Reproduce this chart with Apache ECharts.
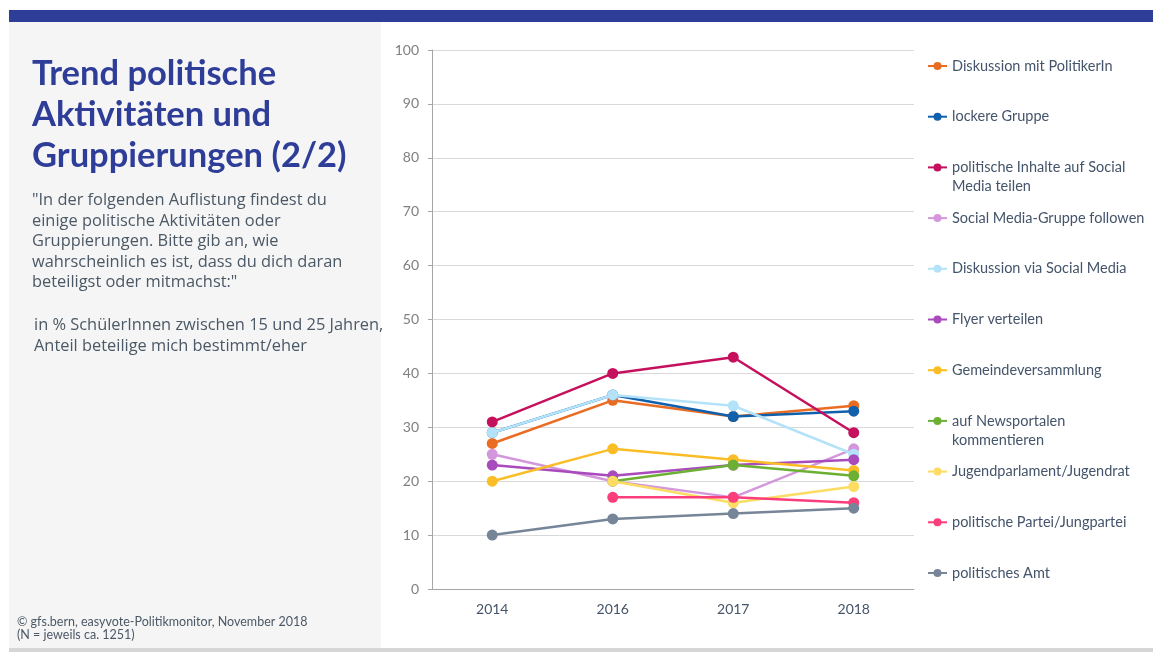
<!DOCTYPE html>
<html>
<head>
<meta charset="utf-8">
<script src="https://cdn.jsdelivr.net/npm/echarts@6/dist/echarts.min.js"></script>
<style>
  html, body { margin: 0; padding: 0; background: #ffffff; }
  #chart { width: 1153px; height: 652px; }
</style>
</head>
<body>
<div id="chart"></div>
<script>
// Survey years on the x axis
const years = ['2014', '2016', '2017', '2018'];

// Share of pupils/students (15–25) likely to take part, in %
const seriesNames = [
  'Diskussion mit PolitikerIn',
  'lockere Gruppe',
  'politische Inhalte auf Social Media teilen',
  'Social Media-Gruppe followen',
  'Diskussion via Social Media',
  'Flyer verteilen',
  'Gemeindeversammlung',
  'auf Newsportalen kommentieren',
  'Jugendparlament/Jugendrat',
  'politische Partei/Jungpartei',
  'politisches Amt'
];
const diskussionPolitiker   = [27, 35, 32, 34];
const lockereGruppe         = [29, 36, 32, 33];
const inhalteSocialMedia    = [31, 40, 43, 29];
const socialMediaGruppe     = [25, 20, 17, 26];
const diskussionSocialMedia = [29, 36, 34, 25];
const flyerVerteilen        = [23, 21, 23, 24];
const gemeindeversammlung   = [20, 26, 24, 22];
const newsportale           = [null, 20, 23, 21];
const jugendparlament       = [null, 20, 16, 19];
const partei                = [null, 17, 17, 16];
const politischesAmt        = [10, 13, 14, 15];

const seriesValues = [
  diskussionPolitiker, lockereGruppe, inhalteSocialMedia, socialMediaGruppe,
  diskussionSocialMedia, flyerVerteilen, gemeindeversammlung, newsportale,
  jugendparlament, partei, politischesAmt
];

const seriesColors = [
  '#ea6c23', '#1160ac', '#c5115d', '#d597dc', '#b4e3f9', '#a94bbd',
  '#fbbd26', '#6cb033', '#fcdc62', '#fa3e7c', '#768598'
];

// Legend labels that wrap onto a second line; the leading blank line keeps
// the first text line level with the legend marker
const legendLabels = {
  'politische Inhalte auf Social Media teilen': ' \npolitische Inhalte auf Social\nMedia teilen',
  'auf Newsportalen kommentieren': ' \nauf Newsportalen\nkommentieren'
};

const yTicks = { min: 0, max: 100, interval: 10 };

const TEXT_FONT = 'Lato, "Open Sans", sans-serif';
const BODY_FONT = '"Open Sans", Lato, sans-serif';
const LABEL_COLOR = '#44546a';

const chart = echarts.init(document.getElementById('chart'), null, { renderer: 'canvas' });

const series = seriesNames.map((name, i) => ({
  name: name,
  type: 'line',
  data: seriesValues[i],
  symbol: 'circle',
  symbolSize: 11,
  connectNulls: false,
  itemStyle: { color: seriesColors[i] },
  lineStyle: { color: seriesColors[i], width: 2.5 },
  emphasis: { disabled: true },
  z: 2 + i
}));

// One legend block per entry, evenly stacked down the right side
const legendTop = 66;
const legendStep = 50.7;
const legendLineHeight = 19;
const legends = seriesNames.map((name, i) => {
  const wrapped = !!legendLabels[name];
  const centerY = legendTop + i * legendStep;
  return {
    data: [name],
    orient: 'vertical',
    left: 927,
    top: wrapped ? centerY - legendLineHeight * 1.5 : centerY - legendLineHeight / 2,
    padding: 0,
    itemWidth: 19,
    itemHeight: 10,
    selectedMode: false,
    formatter: (n) => legendLabels[n] || n,
    textStyle: {
      fontFamily: TEXT_FONT,
      fontSize: 14.5,
      color: LABEL_COLOR,
      lineHeight: legendLineHeight
    }
  };
});

const option = {
  animation: false,
  backgroundColor: '#ffffff',
  grid: { left: 432, right: 239, top: 50, bottom: 63, containLabel: false },
  xAxis: {
    type: 'category',
    data: years,
    boundaryGap: true,
    axisLine: { show: true, lineStyle: { color: '#a6a6a6', width: 1 } },
    axisTick: { show: false },
    axisLabel: { color: LABEL_COLOR, fontFamily: TEXT_FONT, fontSize: 14, margin: 13 },
    splitLine: { show: false }
  },
  yAxis: {
    type: 'value',
    min: yTicks.min,
    max: yTicks.max,
    interval: yTicks.interval,
    axisLine: { show: true, lineStyle: { color: '#a6a6a6', width: 1 } },
    axisTick: { show: true, length: 4, lineStyle: { color: '#a6a6a6' } },
    axisLabel: { color: '#7f7f7f', fontFamily: TEXT_FONT, fontSize: 14, margin: 13 },
    splitLine: { show: true, lineStyle: { color: '#d9d9d9', width: 1 } }
  },
  legend: legends,
  series: series,
  graphic: [
    // top band
    { type: 'rect', left: 9, top: 10, shape: { width: 1144, height: 12 }, style: { fill: '#2e3d98' }, silent: true, z: -10 },
    // left text panel
    { type: 'rect', left: 9, top: 22, shape: { width: 372, height: 626 }, style: { fill: '#f5f5f5' }, silent: true, z: -10 },
    // bottom rule
    { type: 'rect', left: 9, top: 648, shape: { width: 1144, height: 4 }, style: { fill: '#d6d6d6' }, silent: true, z: -10 },
    {
      type: 'text', left: 32, top: 53, silent: true,
      style: {
        text: 'Trend politische\nAktivitäten und\nGruppierungen (2/2)',
        font: 'bold 34.5px ' + TEXT_FONT,
        lineHeight: 41,
        fill: '#2e3d98'
      }
    },
    {
      type: 'text', left: 32, top: 190, silent: true,
      style: {
        text: '"In der folgenden Auflistung findest du\neinige politische Aktivitäten oder\nGruppierungen. Bitte gib an, wie\nwahrscheinlich es ist, dass du dich daran\nbeteiligst oder mitmachst:"',
        font: '16.4px ' + BODY_FONT,
        lineHeight: 20.6,
        fill: '#4b5866'
      }
    },
    {
      type: 'text', left: 34, top: 315, silent: true,
      style: {
        text: 'in % SchülerInnen zwischen 15 und 25 Jahren,\nAnteil beteilige mich bestimmt/eher',
        font: '16.4px ' + BODY_FONT,
        lineHeight: 20.6,
        fill: '#4b5866'
      }
    },
    {
      type: 'text', left: 17, top: 615, silent: true,
      style: {
        text: '© gfs.bern, easyvote-Politikmonitor, November 2018\n(N = jeweils ca. 1251)',
        font: '12.5px ' + TEXT_FONT,
        lineHeight: 13,
        fill: '#4b5866'
      }
    }
  ]
};

chart.setOption(option);
</script>
</body>
</html>
